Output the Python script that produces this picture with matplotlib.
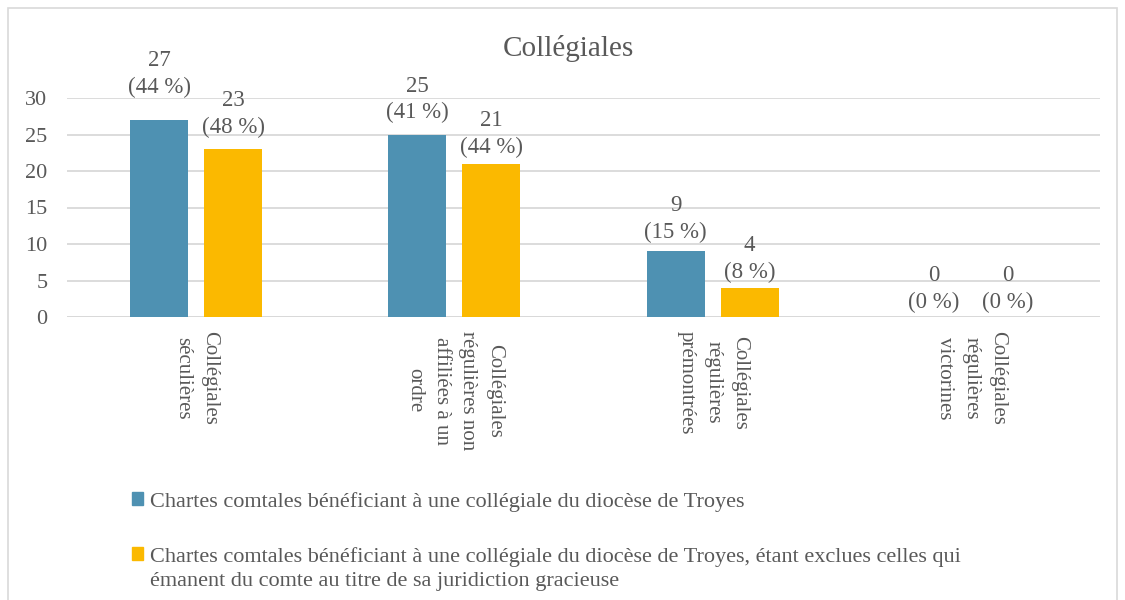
import matplotlib
matplotlib.use("Agg")
import matplotlib.pyplot as plt
import numpy as np
from matplotlib.patches import Rectangle, Patch

categories = ["Collégiales\nséculières",
              "Collégiales\nrégulières non\naffiliées à un\nordre",
              "Collégiales\nrégulières\nprémontrées",
              "Collégiales\nrégulières\nvictorines"]
series1_name = "Chartes comtales bénéficiant à une collégiale du diocèse de Troyes"
series2_name = ("Chartes comtales bénéficiant à une collégiale du diocèse de Troyes, étant exclues celles qui\n"
                "émanent du comte au titre de sa juridiction gracieuse")
series1_values = [27, 25, 9, 0]
series1_pct = [44, 41, 15, 0]
series2_values = [23, 21, 4, 0]
series2_pct = [48, 44, 8, 0]
yticks = [0, 5, 10, 15, 20, 25, 30]

# label gap above each bar (pixels), as placed in the original
gap1 = [22, 11, 8, 4]
gap2 = [11, 6, 5, 4]

blue = "#4E91B2"
yellow = "#FBB900"
txt = "#595959"
grid = "#D9D9D9"

plt.rcParams['font.family'] = ['Liberation Serif', 'DejaVu Serif']
fs_lab = 16.5
fs_tick = 16
fs_cat = 15
fs_leg = 16

fig = plt.figure(figsize=(11.25, 6), dpi=100)
ax = fig.add_axes([67/1125, 1-317/600, (1100-67)/1125, (317-98)/600])

x = np.arange(len(categories))
w = 0.225
off = (w + 16/258) / 2
b1 = ax.bar(x - off, series1_values, w, color=blue, zorder=3)
b2 = ax.bar(x + off, series2_values, w, color=yellow, zorder=3)

for bars, vals, pcts, gaps in ((b1, series1_values, series1_pct, gap1),
                               (b2, series2_values, series2_pct, gap2)):
    for r, v, p, g in zip(bars, vals, pcts, gaps):
        ax.annotate(f"{v}\n({p} %)", (r.get_x() + r.get_width()/2, v),
                    xytext=(0, g * 0.72), textcoords="offset points",
                    ha="center", va="bottom", fontsize=fs_lab, color=txt,
                    multialignment="center", linespacing=1.35)

ax.set_xlim(-0.5, len(categories) - 0.5)
ax.set_ylim(0, 30)
ax.set_yticks(yticks)
ax.set_xticks(x)
ax.set_xticklabels(categories, rotation=-90, ha="center", va="top",
                   multialignment="center", fontsize=fs_cat, color=txt, linespacing=1.55)
ax.tick_params(axis="y", length=0, pad=14, labelsize=fs_tick, labelcolor=txt)
ax.tick_params(axis="x", length=0, pad=10)
ax.yaxis.grid(True, color=grid, linewidth=1.3, zorder=0)
for s in ax.spines.values():
    s.set_visible(False)
ax.axhline(0, color=grid, linewidth=1.3, zorder=1)

fig.text(568/1125, 1-48/600, "Collégiales", ha="center", va="center",
         fontsize=21, color=txt)

handles = [Patch(color=blue), Patch(color=yellow)]
leg = fig.legend(handles, [series1_name, series2_name], loc="upper left",
                 bbox_to_anchor=(132/1125, 1-492/600), frameon=False,
                 fontsize=fs_leg, labelcolor=txt, handlelength=0.5, handleheight=0.5,
                 handletextpad=0.3, labelspacing=1.6, borderpad=0, borderaxespad=0)
for t in leg.get_texts():
    t.set_linespacing(1.35)
try:
    for col in leg._legend_handle_box.get_children():
        for hp in col.get_children():
            hp.align = "top"
            hp.pad = 0
except Exception:
    pass

fig.patches.append(Rectangle((8/1125, -0.05), (1117-8)/1125, 1.05 - 8/600,
                             transform=fig.transFigure, fill=False,
                             edgecolor="#D9D9D9", linewidth=1.2))

fig.savefig("out.png", dpi=100)
